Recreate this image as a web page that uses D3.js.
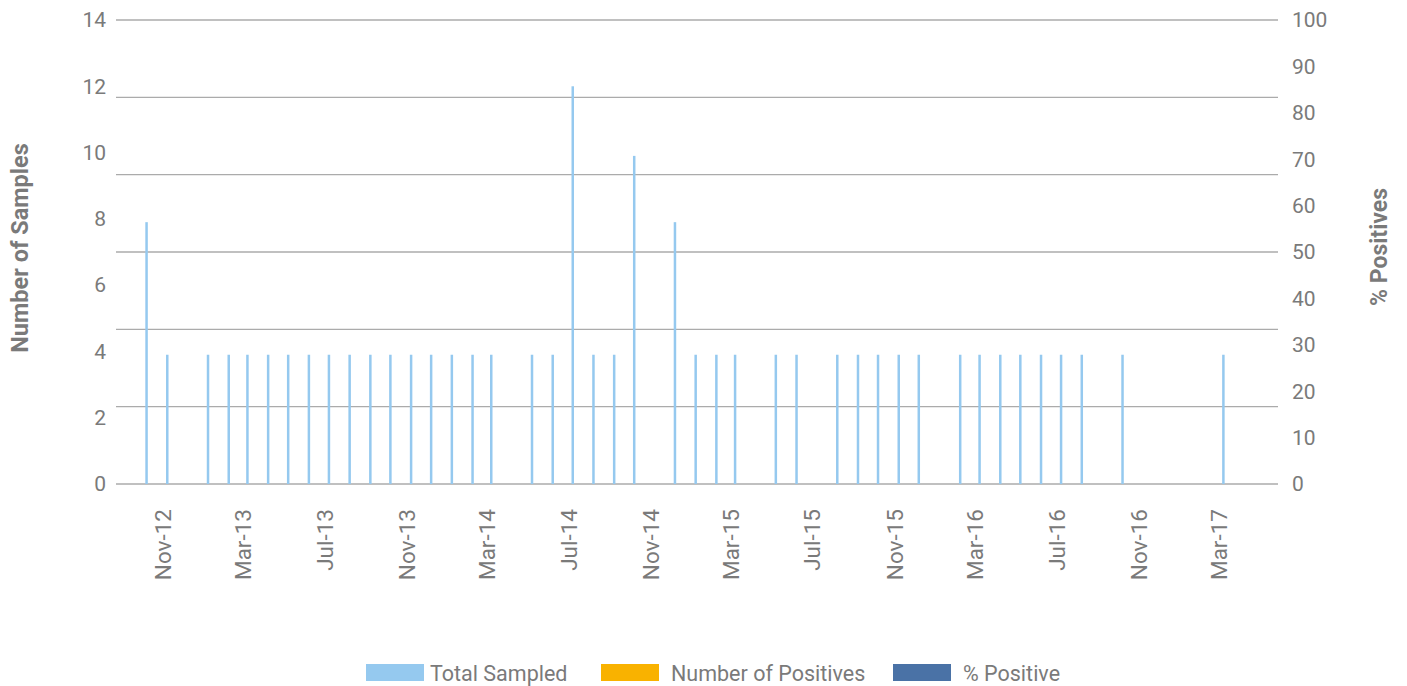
<!DOCTYPE html>
<html>
<head>
<meta charset="utf-8">
<script src="https://cdn.jsdelivr.net/npm/d3@7"></script>
<style>
  html, body { margin: 0; padding: 0; background: #fff; }
  svg { display: block; font-family: Roboto, "Open Sans", sans-serif; }
</style>
</head>
<body>
<svg id="chart" width="1407" height="686"></svg>
<script>
// ---- data ----
const months = [
  "Oct-12","Nov-12","Dec-12",
  "Jan-13","Feb-13","Mar-13","Apr-13","May-13","Jun-13","Jul-13","Aug-13","Sep-13","Oct-13","Nov-13","Dec-13",
  "Jan-14","Feb-14","Mar-14","Apr-14","May-14","Jun-14","Jul-14","Aug-14","Sep-14","Oct-14","Nov-14","Dec-14",
  "Jan-15","Feb-15","Mar-15","Apr-15","May-15","Jun-15","Jul-15","Aug-15","Sep-15","Oct-15","Nov-15","Dec-15",
  "Jan-16","Feb-16","Mar-16","Apr-16","May-16","Jun-16","Jul-16","Aug-16","Sep-16","Oct-16","Nov-16","Dec-16",
  "Jan-17","Feb-17","Mar-17"
];
const totalSampled = [
  7.9, 3.9, 0,
  3.9, 3.9, 3.9, 3.9, 3.9, 3.9, 3.9, 3.9, 3.9, 3.9, 3.9, 3.9,
  3.9, 3.9, 3.9, 0, 3.9, 3.9, 12, 3.9, 3.9, 9.9, 0, 7.9,
  3.9, 3.9, 3.9, 0, 3.9, 3.9, 0, 3.9, 3.9, 3.9, 3.9, 3.9,
  0, 3.9, 3.9, 3.9, 3.9, 3.9, 3.9, 3.9, 0, 3.9, 0, 0,
  0, 0, 3.9
];
const numberPositives = months.map(() => 0);
const pctPositive = months.map(() => 0);

const xTickLabels = ["Nov-12","Mar-13","Jul-13","Nov-13","Mar-14","Jul-14","Nov-14","Mar-15","Jul-15","Nov-15","Mar-16","Jul-16","Nov-16","Mar-17"];
const leftTicks = [0, 2, 4, 6, 8, 10, 12, 14];
const rightTicks = [0, 10, 20, 30, 40, 50, 60, 70, 80, 90, 100];
const gridDivisions = 6;
const xDomain = ["2012-08-14", "2017-05-18"];

const seriesNames = ["Total Sampled", "Number of Positives", "% Positive"];
const seriesColors = ["#95C9EF", "#F9B200", "#4A72A6"];

// ---- layout ----
const svg = d3.select("#chart");
const plot = { left: 117, right: 1278, top: 20, bottom: 484 };
const parseMonth = d3.timeParse("%b-%y");
const parseDay = d3.timeParse("%Y-%m-%d");

const x = d3.scaleTime().domain(xDomain.map(parseDay)).range([plot.left, plot.right]);
const yL = d3.scaleLinear().domain([0, 14]).range([plot.bottom, plot.top]);
const yR = d3.scaleLinear().domain([0, 100]).range([plot.bottom, plot.top]);

const textColor = "#7a7a7a";

// gridlines
const gridVals = d3.range(gridDivisions + 1).map(i => i * 14 / gridDivisions);
svg.append("g").selectAll("line").data(gridVals).join("line")
  .attr("x1", plot.left - 1).attr("x2", plot.right)
  .attr("y1", d => yL(d)).attr("y2", d => yL(d))
  .attr("stroke", "#ababab").attr("stroke-width", 1.4);

// bars (clustered: 3 series, zero-valued series invisible)
const barW = 2.5;
const rows = months.map((m, i) => ({ date: parseMonth(m), vals: [totalSampled[i], numberPositives[i], pctPositive[i]] }));
const barsG = svg.append("g");
rows.forEach(r => {
  r.vals.forEach((v, s) => {
    const sc = s === 2 ? yR : yL;
    const cx = x(r.date) + (s - 1) * barW;
    barsG.append("rect")
      .attr("x", cx - barW / 2)
      .attr("width", barW)
      .attr("y", sc(v))
      .attr("height", sc(0) - sc(v))
      .attr("fill", seriesColors[s]);
  });
});

// left axis labels
svg.append("g").selectAll("text").data(leftTicks).join("text")
  .attr("x", 106).attr("y", d => yL(d)).attr("dy", "0.35em")
  .attr("text-anchor", "end").attr("font-size", 21).attr("fill", textColor)
  .text(d => d);

// right axis labels
svg.append("g").selectAll("text").data(rightTicks).join("text")
  .attr("x", 1292).attr("y", d => yR(d)).attr("dy", "0.35em")
  .attr("text-anchor", "start").attr("font-size", 21).attr("fill", textColor)
  .text(d => d);

// x labels
svg.append("g").selectAll("text").data(xTickLabels).join("text")
  .attr("transform", d => `translate(${x(parseMonth(d)) - 6.5},509) rotate(-90)`)
  .attr("dy", "0.35em")
  .attr("text-anchor", "end").attr("font-size", 22.5).attr("fill", textColor)
  .text(d => d);

// axis titles
svg.append("text")
  .attr("transform", `translate(20,248) rotate(-90)`)
  .attr("dy", "0.35em").attr("text-anchor", "middle")
  .attr("font-size", 23.5).attr("font-weight", "bold").attr("fill", textColor)
  .text("Number of Samples");
svg.append("text")
  .attr("transform", `translate(1379,247) rotate(-90)`)
  .attr("dy", "0.35em").attr("text-anchor", "middle")
  .attr("font-size", 23).attr("font-weight", "bold").attr("fill", textColor)
  .text("% Positives");

// legend
const legendX = [366, 601, 893];
const lg = svg.append("g");
seriesNames.forEach((n, i) => {
  lg.append("rect").attr("x", legendX[i]).attr("y", 664).attr("width", 58).attr("height", 17).attr("fill", seriesColors[i]);
  lg.append("text").attr("x", legendX[i] + (i === 0 ? 64 : 70)).attr("y", 673).attr("dy", "0.35em")
    .attr("font-size", 21.5).attr("fill", textColor).text(n);
});
</script>
</body>
</html>
